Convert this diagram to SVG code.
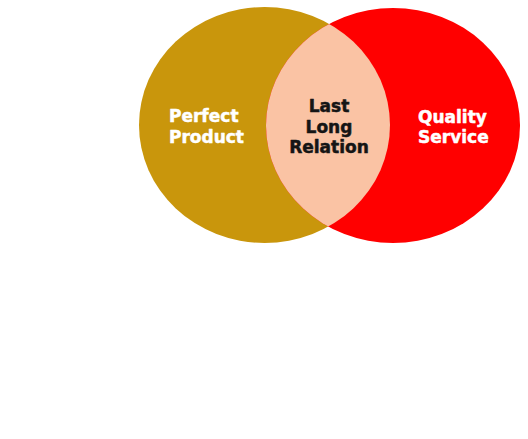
<svg xmlns="http://www.w3.org/2000/svg" width="528" height="439" viewBox="0 0 528 439">
<defs>
<clipPath id="clipRight"><ellipse cx="393" cy="125.5" rx="127" ry="117.5"/></clipPath>
</defs>
<style>
.lbl{font-family:"DejaVu Sans","Verdana",sans-serif;font-weight:bold;font-size:17px;stroke-width:0.5px;stroke-linejoin:round}
.w{fill:#ffffff;stroke:#ffffff}
.k{fill:#151515;stroke:#151515;text-anchor:middle}
</style>
<rect width="528" height="439" fill="#ffffff"/>
<g id="perfect-product">
<ellipse cx="264.5" cy="125" rx="125.5" ry="118" fill="#C9960C"/>
<text class="lbl w" x="169" y="122">Perfect</text>
<text class="lbl w" x="169" y="143">Product</text>
</g>
<g id="quality-service">
<ellipse cx="393" cy="125.5" rx="127" ry="117.5" fill="#FF0000"/>
<text class="lbl w" x="418" y="123">Quality</text>
<text class="lbl w" x="418" y="143">Service</text>
</g>
<g id="last-long-relation">
<ellipse cx="264.5" cy="125" rx="125.5" ry="118" fill="#FAC3A4" clip-path="url(#clipRight)"/>
<text class="lbl k" x="329" y="112">Last</text>
<text class="lbl k" x="329" y="132.5">Long</text>
<text class="lbl k" x="329" y="153">Relation</text>
</g>
</svg>
